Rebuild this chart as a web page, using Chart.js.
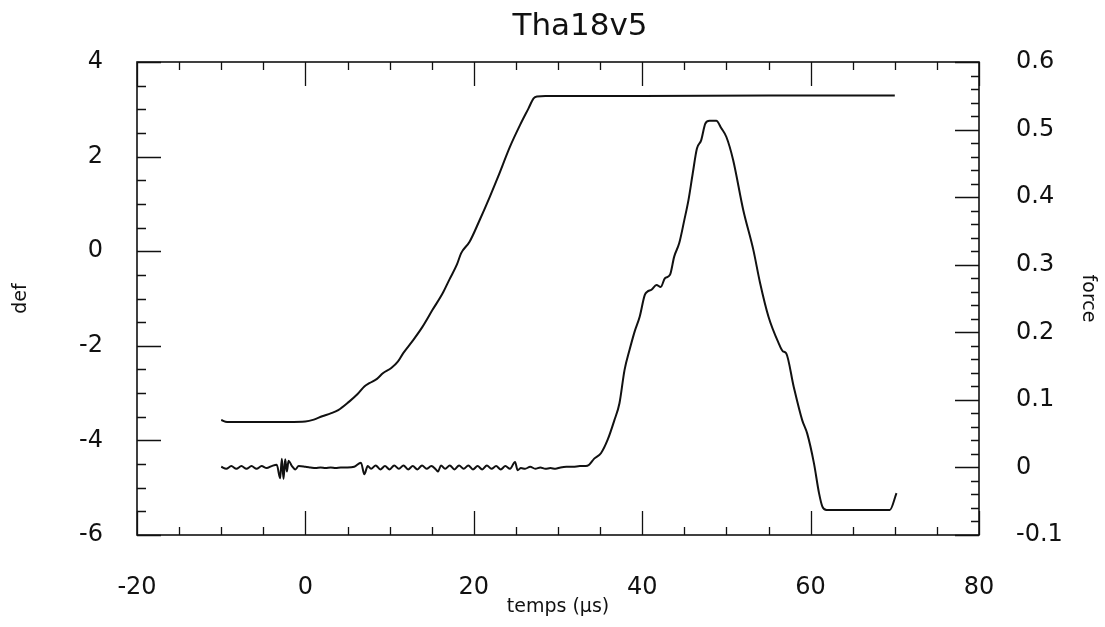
<!DOCTYPE html>
<html>
<head>
<meta charset="utf-8">
<script src="https://cdn.jsdelivr.net/npm/chart.js@4.4.1/dist/chart.umd.min.js"></script>
<style>
  html, body { margin: 0; padding: 0; background: #ffffff; }
  #wrap { width: 1105px; height: 627px; position: relative; }
</style>
</head>
<body>
<div id="wrap"><canvas id="c" width="1105" height="627"></canvas></div>
<script>
// ---- Data ----
const chartTitle = 'Tha18v5';
const xTitle = 'temps (µs)';
const yLeftTitle = 'def';
const yRightTitle = 'force';

// def curve (left axis)
const defTime = [-10, -9.3, -8, -6, -4, -2, 0, 1, 2, 3, 3.9, 5.2, 6.2, 7.0, 7.6, 8.5, 9.2, 10.2, 11.0, 11.6, 12.8, 13.9, 15.1, 16.3, 17.1, 18.0, 18.5, 19.5, 20.7, 21.9, 22.9, 24.3, 25.5, 26.5, 27.1, 27.5, 28.5, 40, 55, 70];
const defValue = [-3.57, -3.61, -3.61, -3.61, -3.61, -3.61, -3.60, -3.56, -3.49, -3.43, -3.36, -3.18, -3.02, -2.86, -2.79, -2.70, -2.58, -2.47, -2.33, -2.16, -1.88, -1.60, -1.24, -0.89, -0.60, -0.28, -0.04, 0.20, 0.66, 1.15, 1.58, 2.21, 2.67, 3.02, 3.23, 3.27, 3.28, 3.28, 3.29, 3.29];

// force curve (right axis)
const forceTime = [
  -10, -9.4, -8.8, -8.2, -7.6, -7.0, -6.4, -5.8, -5.2, -4.6, -4.0, -3.4,
  -3.0, -2.8, -2.6, -2.4, -2.2, -2.0, -1.6, -1.2, -0.8,
  0.0, 0.6, 1.2, 1.8, 2.4, 3.0, 3.6, 4.2, 5.0, 5.8, 6.6, 7.0, 7.4,
  7.8, 8.35, 8.9, 9.45, 10.0, 10.55, 11.1, 11.65, 12.2, 12.75, 13.3, 13.85, 14.4, 14.95, 15.5, 15.75,
  16.1, 16.6, 17.15, 17.7, 18.25, 18.8, 19.35, 19.9, 20.45, 21.0, 21.55, 22.1, 22.65, 23.2, 23.75, 24.3,
  24.9, 25.2, 25.6, 26.1, 26.7, 27.3, 27.9, 28.5, 29.1, 29.7, 30.3, 31.0, 31.8, 32.6, 33.3, 33.7,
  34.3, 35.1, 35.9, 36.7, 37.3, 37.9, 38.5, 39.1, 39.7, 40.3, 40.6, 41.1, 41.7, 42.2, 42.7, 43.3,
  43.8, 44.4, 45.0, 45.5, 46.0, 46.5, 47.0, 47.5, 48.0, 48.8, 49.4, 50.0, 50.8, 52.0, 53.2, 54.0,
  55.0, 56.2, 56.7, 57.1, 58.0, 59.0, 59.6, 60.4, 61.0, 61.4, 61.9, 65.0, 69.4, 70.2
];
const forceValue = [
  0.001, -0.002, 0.002, -0.002, 0.002, -0.002, 0.002, -0.002, 0.002, -0.001, 0.002, 0.004,
  -0.016, 0.013, -0.017, 0.012, -0.006, 0.010, 0.002, -0.003, 0.002,
  0.001, 0.000, -0.001, 0.000, -0.001, 0.000, -0.001, 0.000, 0.000, 0.001, 0.007, -0.010, 0.002,
  -0.002, 0.003, -0.003, 0.002, -0.003, 0.003, -0.002, 0.003, -0.003, 0.002, -0.003, 0.003, -0.002, 0.002, -0.003, -0.006,
  0.003, -0.002, 0.003, -0.003, 0.003, -0.002, 0.003, -0.003, 0.002, -0.003, 0.003, -0.002, 0.002, -0.003, 0.002, -0.002,
  0.008, -0.004, -0.001, -0.002, 0.001, -0.002, 0.000, -0.002, -0.001, -0.002, 0.000, 0.001, 0.001, 0.002, 0.002, 0.004,
  0.013, 0.021, 0.041, 0.070, 0.095, 0.144, 0.174, 0.201, 0.223, 0.255, 0.260, 0.263, 0.270, 0.267, 0.280, 0.285,
  0.312, 0.332, 0.366, 0.396, 0.435, 0.472, 0.484, 0.509, 0.513, 0.513, 0.502, 0.489, 0.455, 0.381, 0.322, 0.273,
  0.223, 0.184, 0.172, 0.169, 0.119, 0.070, 0.050, 0.006, -0.038, -0.058, -0.063, -0.063, -0.063, -0.038
];

// axis ranges / tick steps
const xRange = [-20, 80];
const xStep = 20;
const yLeftRange = [-6, 4];
const yLeftStep = 2;
const yRightRange = [-0.1, 0.6];
const yRightStep = 0.1;

// ---- Chart ----
const FONT = 'DejaVu Sans';
const INK = '#111111';

const frameAndTicks = {
  id: 'frameAndTicks',
  afterDraw(chart) {
    const ctx = chart.ctx;
    const { left, right, top, bottom } = chart.chartArea;
    const sx = chart.scales.x, sy = chart.scales.y, sy2 = chart.scales.y2;
    ctx.save();
    ctx.strokeStyle = INK;
    ctx.lineWidth = 1.6;
    ctx.strokeRect(left, top, right - left, bottom - top);
    ctx.lineWidth = 1.3;
    ctx.beginPath();
    // x: minor every 5, major every 20 (top and bottom, inward)
    for (let i = 0; i <= 20; i++) {
      const v = xRange[0] + i * 5;
      const px = Math.round(sx.getPixelForValue(v)) + 0.5;
      const len = (i % 4 === 0) ? 24 : 8;
      ctx.moveTo(px, bottom); ctx.lineTo(px, bottom - len);
      ctx.moveTo(px, top); ctx.lineTo(px, top + len);
    }
    // left: minor every 0.5, major every 2
    for (let i = 0; i <= 20; i++) {
      const v = yLeftRange[0] + i * 0.5;
      const py = Math.round(sy.getPixelForValue(v)) + 0.5;
      const len = (i % 4 === 0) ? 24 : 9;
      ctx.moveTo(left, py); ctx.lineTo(left + len, py);
    }
    // right: minor every 0.02, major every 0.1
    for (let i = -5; i <= 30; i++) {
      const v = i * 0.02;
      const py = Math.round(sy2.getPixelForValue(v)) + 0.5;
      const len = (i % 5 === 0) ? 24 : 8;
      ctx.moveTo(right, py); ctx.lineTo(right - len, py);
    }
    ctx.stroke();
    // chart title
    ctx.fillStyle = INK;
    ctx.font = '31px "' + FONT + '"';
    ctx.textAlign = 'center';
    ctx.textBaseline = 'middle';
    ctx.fillText(chartTitle, 580, 27);
    ctx.restore();
  }
};

const fmt = v => { const r = Number(v.toFixed(1)); return (Math.abs(r) < 1e-9) ? '0' : String(r); };

new Chart(document.getElementById('c'), {
  type: 'line',
  data: {
    datasets: [
      {
        label: 'def',
        data: defTime.map((t, i) => ({ x: t, y: defValue[i] })),
        yAxisID: 'y',
        borderColor: INK, borderWidth: 2, pointRadius: 0, cubicInterpolationMode: 'monotone', fill: false
      },
      {
        label: 'force',
        data: forceTime.map((t, i) => ({ x: t, y: forceValue[i] })),
        yAxisID: 'y2',
        borderColor: INK, borderWidth: 2, pointRadius: 0, cubicInterpolationMode: 'monotone', fill: false
      }
    ]
  },
  options: {
    responsive: false,
    animation: false,
    devicePixelRatio: 1,
    layout: { padding: { top: 62, left: 0, right: 0, bottom: 0 } },
    plugins: { legend: { display: false }, tooltip: { enabled: false }, title: { display: false } },
    scales: {
      x: {
        type: 'linear', position: 'bottom', min: xRange[0], max: xRange[1],
        afterFit: s => { s.height = 92; },
        grid: { display: false }, border: { display: false },
        ticks: { stepSize: xStep, color: INK, padding: 30, maxRotation: 0, font: { family: FONT, size: 24 } },
        title: { display: true, text: xTitle, color: INK, font: { family: FONT, size: 19 }, padding: { top: 0, bottom: 9 } }
      },
      y: {
        type: 'linear', position: 'left', min: yLeftRange[0], max: yLeftRange[1],
        afterFit: s => { s.width = 137; },
        grid: { display: false }, border: { display: false },
        ticks: { stepSize: yLeftStep, color: INK, padding: 26, font: { family: FONT, size: 24 }, callback: v => fmt(v) },
        title: { display: true, text: yLeftTitle, color: INK, font: { family: FONT, size: 19 }, padding: { top: 10, bottom: 0 } }
      },
      y2: {
        type: 'linear', position: 'right', min: yRightRange[0], max: yRightRange[1],
        afterFit: s => { s.width = 126; },
        grid: { display: false }, border: { display: false },
        ticks: { stepSize: yRightStep, color: INK, padding: 29, font: { family: FONT, size: 24 }, callback: v => fmt(v) },
        title: { display: true, text: yRightTitle, color: INK, font: { family: FONT, size: 19 }, padding: { top: 6, bottom: 0 } }
      }
    }
  },
  plugins: [frameAndTicks]
});
</script>
</body>
</html>
